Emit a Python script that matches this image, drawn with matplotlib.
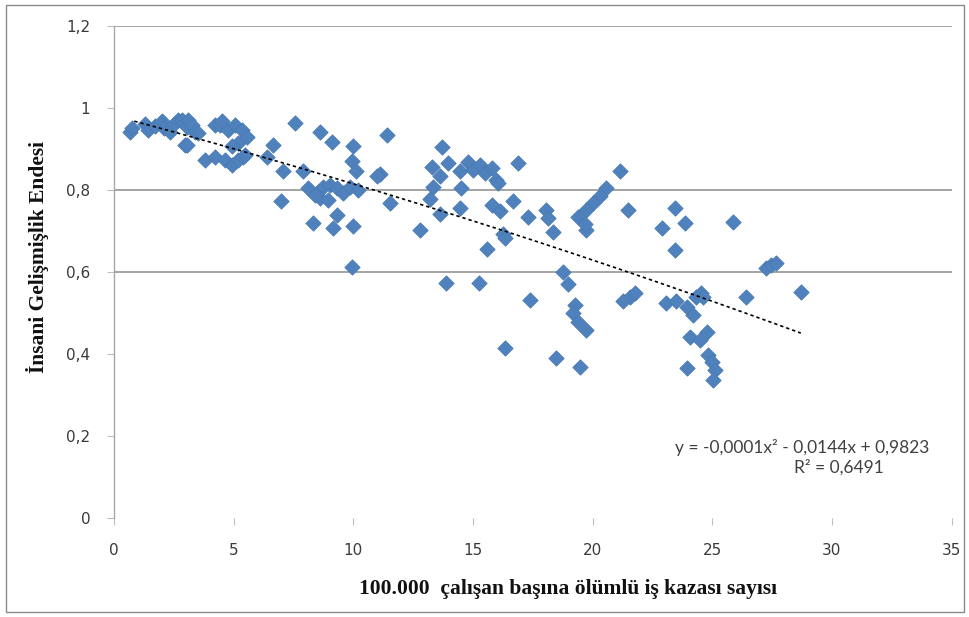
import numpy as np
import matplotlib
matplotlib.use("Agg")
import matplotlib.pyplot as plt
from matplotlib.patches import Rectangle

# Data
x_vals = [
    0.67, 0.74, 1.29, 1.42, 1.7, 1.99, 2.1, 2.34, 2.55, 2.69, 2.83, 3.04, 3.1, 3.24, 3.38, 3.52, 2.97, 3.04,
    4.22, 4.43, 4.5, 4.77, 5.05, 5.33, 5.54, 5.19, 4.92, 3.8, 4.22, 4.64, 4.92, 5.2, 5.4, 5.47,
    6.38, 6.65, 7.56, 8.6, 9.13, 10.0, 11.39, 9.93, 10.1, 7.07, 7.9, 11.1, 10.97,
    8.12, 8.53, 8.74, 9.02, 9.3, 9.58, 9.86, 10.2, 8.6, 8.95, 8.4,
    7.0, 11.53, 9.3, 8.33, 9.16, 10.0, 9.93,
    13.69, 13.27, 13.97, 13.62, 13.34, 13.2, 13.62, 12.78, 14.45, 14.52, 14.8, 14.45, 15.0, 15.29,
    15.5, 15.78, 15.98, 16.05, 16.89, 15.8, 16.12, 16.68, 17.3, 16.26, 16.33, 15.57, 13.89, 15.24,
    17.38, 16.33, 18.07, 18.14, 18.35, 18.49,
    21.14, 20.58, 20.3, 20.02, 19.74, 19.4, 19.74, 19.7,
    21.49, 23.43, 22.88, 23.85, 23.43,
    18.77, 18.98, 21.55, 21.76, 21.27, 19.26, 19.19, 19.4, 19.74, 19.47,
    23.08, 23.5, 23.93, 24.34, 24.55, 24.2, 24.06, 24.48, 24.76, 24.83, 24.97, 25.1, 25.03, 23.93,
    27.26, 27.47, 27.68, 26.43, 28.72, 25.87, 24.62,
]
y_vals = [
    0.942, 0.950, 0.962, 0.946, 0.955, 0.967, 0.950, 0.942, 0.963, 0.971, 0.970, 0.954, 0.971, 0.959, 0.942, 0.938, 0.910, 0.910,
    0.959, 0.959, 0.967, 0.946, 0.959, 0.946, 0.930, 0.915, 0.906, 0.873, 0.881, 0.873, 0.861, 0.873, 0.881, 0.885,
    0.881, 0.910, 0.963, 0.942, 0.918, 0.906, 0.934, 0.870, 0.847, 0.845, 0.845, 0.840, 0.833,
    0.804, 0.796, 0.808, 0.812, 0.804, 0.792, 0.808, 0.800, 0.780, 0.776, 0.788,
    0.772, 0.768, 0.739, 0.719, 0.707, 0.711, 0.613,
    0.904, 0.857, 0.865, 0.833, 0.808, 0.778, 0.741, 0.702, 0.757, 0.804, 0.869, 0.845, 0.849, 0.861,
    0.841, 0.853, 0.824, 0.816, 0.865, 0.763, 0.749, 0.772, 0.733, 0.692, 0.682, 0.656, 0.574, 0.574,
    0.532, 0.415, 0.751, 0.731, 0.698, 0.390,
    0.845, 0.804, 0.784, 0.768, 0.751, 0.735, 0.702, 0.716,
    0.751, 0.755, 0.707, 0.719, 0.654,
    0.599, 0.570, 0.538, 0.548, 0.528, 0.520, 0.499, 0.479, 0.459, 0.369,
    0.524, 0.528, 0.515, 0.540, 0.548, 0.495, 0.442, 0.434, 0.454, 0.398, 0.381, 0.361, 0.337, 0.365,
    0.609, 0.617, 0.621, 0.540, 0.552, 0.723, 0.540,
]

# Trendline (polynomial, order 2) as drawn in the picture
trend_coef = [-0.0001, -0.0156, 0.981]
trend_range = [0.85, 28.7]

x_ticks = [0, 5, 10, 15, 20, 25, 30, 35]
y_ticks = [0, 0.2, 0.4, 0.6, 0.8, 1.0, 1.2]
y_tick_labels = ["0", "0,2", "0,4", "0,6", "0,8", "1", "1,2"]
grid_levels = [0.6, 0.8, 1.2]

x_label = "100.000  çalışan başına ölümlü iş kazası sayısı"
y_label = "İnsani Gelişmişlik Endesi"
eq_text = "y = -0,0001x² - 0,0144x + 0,9823"
r2_text = "R² = 0,6491"

fig = plt.figure(figsize=(9.7, 6.17), dpi=100)
fig.patch.set_facecolor("white")
ax = fig.add_axes([0.1175, 0.1605, 0.8635, 0.7975])

for g in grid_levels:
    ax.axhline(g, color="#8c8c8c", lw=1.1, zorder=1)

ax.scatter(x_vals, y_vals, marker="D", s=62, color="#4F81BD", edgecolors="#4a7ab3",
           linewidths=0.5, zorder=3)

tx = np.linspace(trend_range[0], trend_range[1], 200)
ty = np.polyval(trend_coef, tx)
ax.plot(tx, ty, color="black", lw=1.2, linestyle=(0, (2.0, 1.8)), zorder=4)

ax.set_xlim(0, 35)
ax.set_ylim(0, 1.2)
ax.set_xticks(x_ticks)
ax.set_xticklabels([str(t) for t in x_ticks])
ax.set_yticks(y_ticks)
ax.set_yticklabels(y_tick_labels)

for s in ["top", "right", "bottom"]:
    ax.spines[s].set_visible(False)
ax.spines["left"].set_color("#a8a8a8")
ax.spines["left"].set_linewidth(1.0)

ax.tick_params(axis="both", direction="out", length=5, width=0.8, color="#c0c0c0",
               labelsize=11, labelcolor="#3a3a3a")
ax.tick_params(axis="x", pad=13)
ax.tick_params(axis="y", pad=12)
for lab in ax.get_xticklabels() + ax.get_yticklabels():
    lab.set_fontfamily("DejaVu Sans")

ax.set_xlabel(x_label, fontsize=15.5, fontweight="bold", family="Liberation Serif",
              color="#111111")
ax.set_ylabel(y_label, fontsize=15.5, fontweight="bold", family="Liberation Serif",
              color="#111111")
ax.xaxis.set_label_coords(0.542, -0.125)
ax.yaxis.set_label_coords(-0.078, 0.53)

ax.text(0.974, 0.144, eq_text, transform=ax.transAxes, ha="right", va="center",
        fontsize=12.5, family="Lato", color="#404040")
ax.text(0.866, 0.102, r2_text, transform=ax.transAxes, ha="center", va="center",
        fontsize=12.5, family="Lato", color="#404040")

fig.patches.append(Rectangle((0.006, 0.008), 0.988, 0.984, transform=fig.transFigure,
                             fill=False, edgecolor="#8a8a8a", lw=1.0))

fig.savefig("out.png", dpi=100)
